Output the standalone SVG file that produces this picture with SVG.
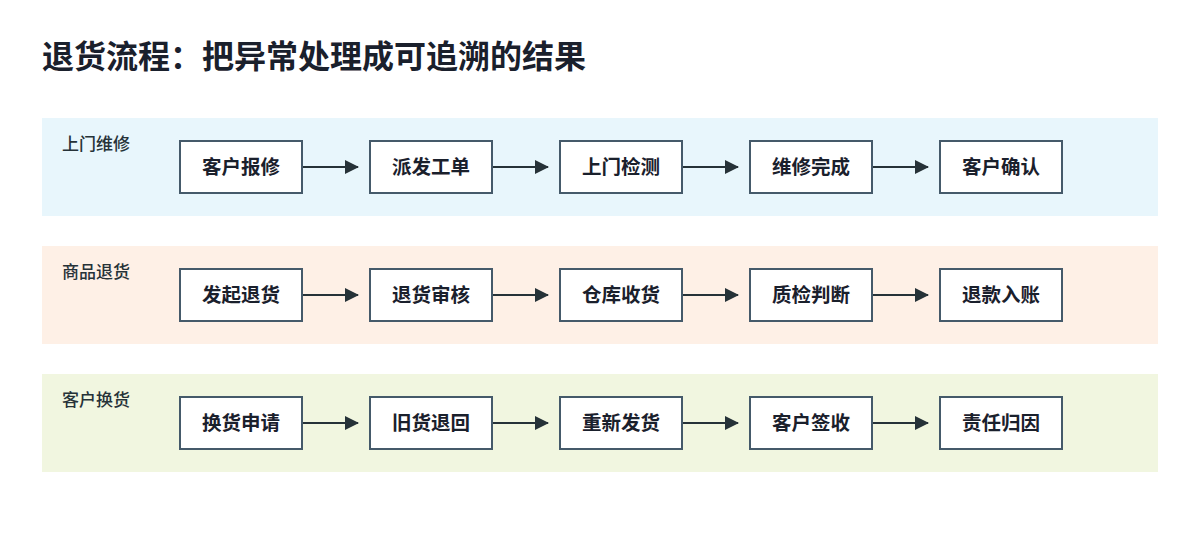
<svg xmlns="http://www.w3.org/2000/svg" width="1200" height="560" viewBox="0 0 1200 560">
<defs>
<marker id="arr" viewBox="0 0 14 14" refX="13" refY="7" markerWidth="14" markerHeight="14" markerUnits="userSpaceOnUse" orient="auto">
<path d="M0,0 L14,7 L0,14 Z" fill="#263238"/>
</marker>
<style>
.title{font-family:"Noto Sans CJK SC","Noto Sans",sans-serif;font-size:32px;font-weight:700;fill:#1a202c}
.lane-label{font-family:"Noto Sans CJK SC","Noto Sans",sans-serif;font-size:17px;font-weight:500;fill:#263238}
.node rect{fill:#ffffff;stroke:#455a6a;stroke-width:2}
.node text{font-family:"Noto Sans CJK SC","Noto Sans",sans-serif;font-size:19.5px;font-weight:600;fill:#1a202c;text-anchor:middle;dominant-baseline:central}
.conn line{stroke:#263238;stroke-width:2;marker-end:url(#arr)}
</style>
</defs>
<rect width="1200" height="560" fill="#ffffff"/>
<text class="title" x="42" y="68">退货流程：把异常处理成可追溯的结果</text>

<g id="lane1">
<rect x="42" y="118" width="1116" height="98" fill="#e8f6fc"/>
<text class="lane-label" x="62" y="150">上门维修</text>
</g>
<g id="lane2">
<rect x="42" y="246" width="1116" height="98" fill="#fef0e6"/>
<text class="lane-label" x="62" y="278">商品退货</text>
</g>
<g id="lane3">
<rect x="42" y="374" width="1116" height="98" fill="#f1f6e0"/>
<text class="lane-label" x="62" y="406">客户换货</text>
</g>

<g id="connectors" class="conn">
<line x1="302" y1="167" x2="358" y2="167"/>
<line x1="492" y1="167" x2="548" y2="167"/>
<line x1="682" y1="167" x2="738" y2="167"/>
<line x1="872" y1="167" x2="928" y2="167"/>
<line x1="302" y1="295" x2="358" y2="295"/>
<line x1="492" y1="295" x2="548" y2="295"/>
<line x1="682" y1="295" x2="738" y2="295"/>
<line x1="872" y1="295" x2="928" y2="295"/>
<line x1="302" y1="423" x2="358" y2="423"/>
<line x1="492" y1="423" x2="548" y2="423"/>
<line x1="682" y1="423" x2="738" y2="423"/>
<line x1="872" y1="423" x2="928" y2="423"/>
</g>

<g id="n1-1" class="node"><rect x="180" y="141" width="122" height="52"/><text x="241" y="165.5">客户报修</text></g>
<g id="n1-2" class="node"><rect x="370" y="141" width="122" height="52"/><text x="431" y="165.5">派发工单</text></g>
<g id="n1-3" class="node"><rect x="560" y="141" width="122" height="52"/><text x="621" y="165.5">上门检测</text></g>
<g id="n1-4" class="node"><rect x="750" y="141" width="122" height="52"/><text x="811" y="165.5">维修完成</text></g>
<g id="n1-5" class="node"><rect x="940" y="141" width="122" height="52"/><text x="1001" y="165.5">客户确认</text></g>

<g id="n2-1" class="node"><rect x="180" y="269" width="122" height="52"/><text x="241" y="293.5">发起退货</text></g>
<g id="n2-2" class="node"><rect x="370" y="269" width="122" height="52"/><text x="431" y="293.5">退货审核</text></g>
<g id="n2-3" class="node"><rect x="560" y="269" width="122" height="52"/><text x="621" y="293.5">仓库收货</text></g>
<g id="n2-4" class="node"><rect x="750" y="269" width="122" height="52"/><text x="811" y="293.5">质检判断</text></g>
<g id="n2-5" class="node"><rect x="940" y="269" width="122" height="52"/><text x="1001" y="293.5">退款入账</text></g>

<g id="n3-1" class="node"><rect x="180" y="397" width="122" height="52"/><text x="241" y="421.5">换货申请</text></g>
<g id="n3-2" class="node"><rect x="370" y="397" width="122" height="52"/><text x="431" y="421.5">旧货退回</text></g>
<g id="n3-3" class="node"><rect x="560" y="397" width="122" height="52"/><text x="621" y="421.5">重新发货</text></g>
<g id="n3-4" class="node"><rect x="750" y="397" width="122" height="52"/><text x="811" y="421.5">客户签收</text></g>
<g id="n3-5" class="node"><rect x="940" y="397" width="122" height="52"/><text x="1001" y="421.5">责任归因</text></g>
</svg>
